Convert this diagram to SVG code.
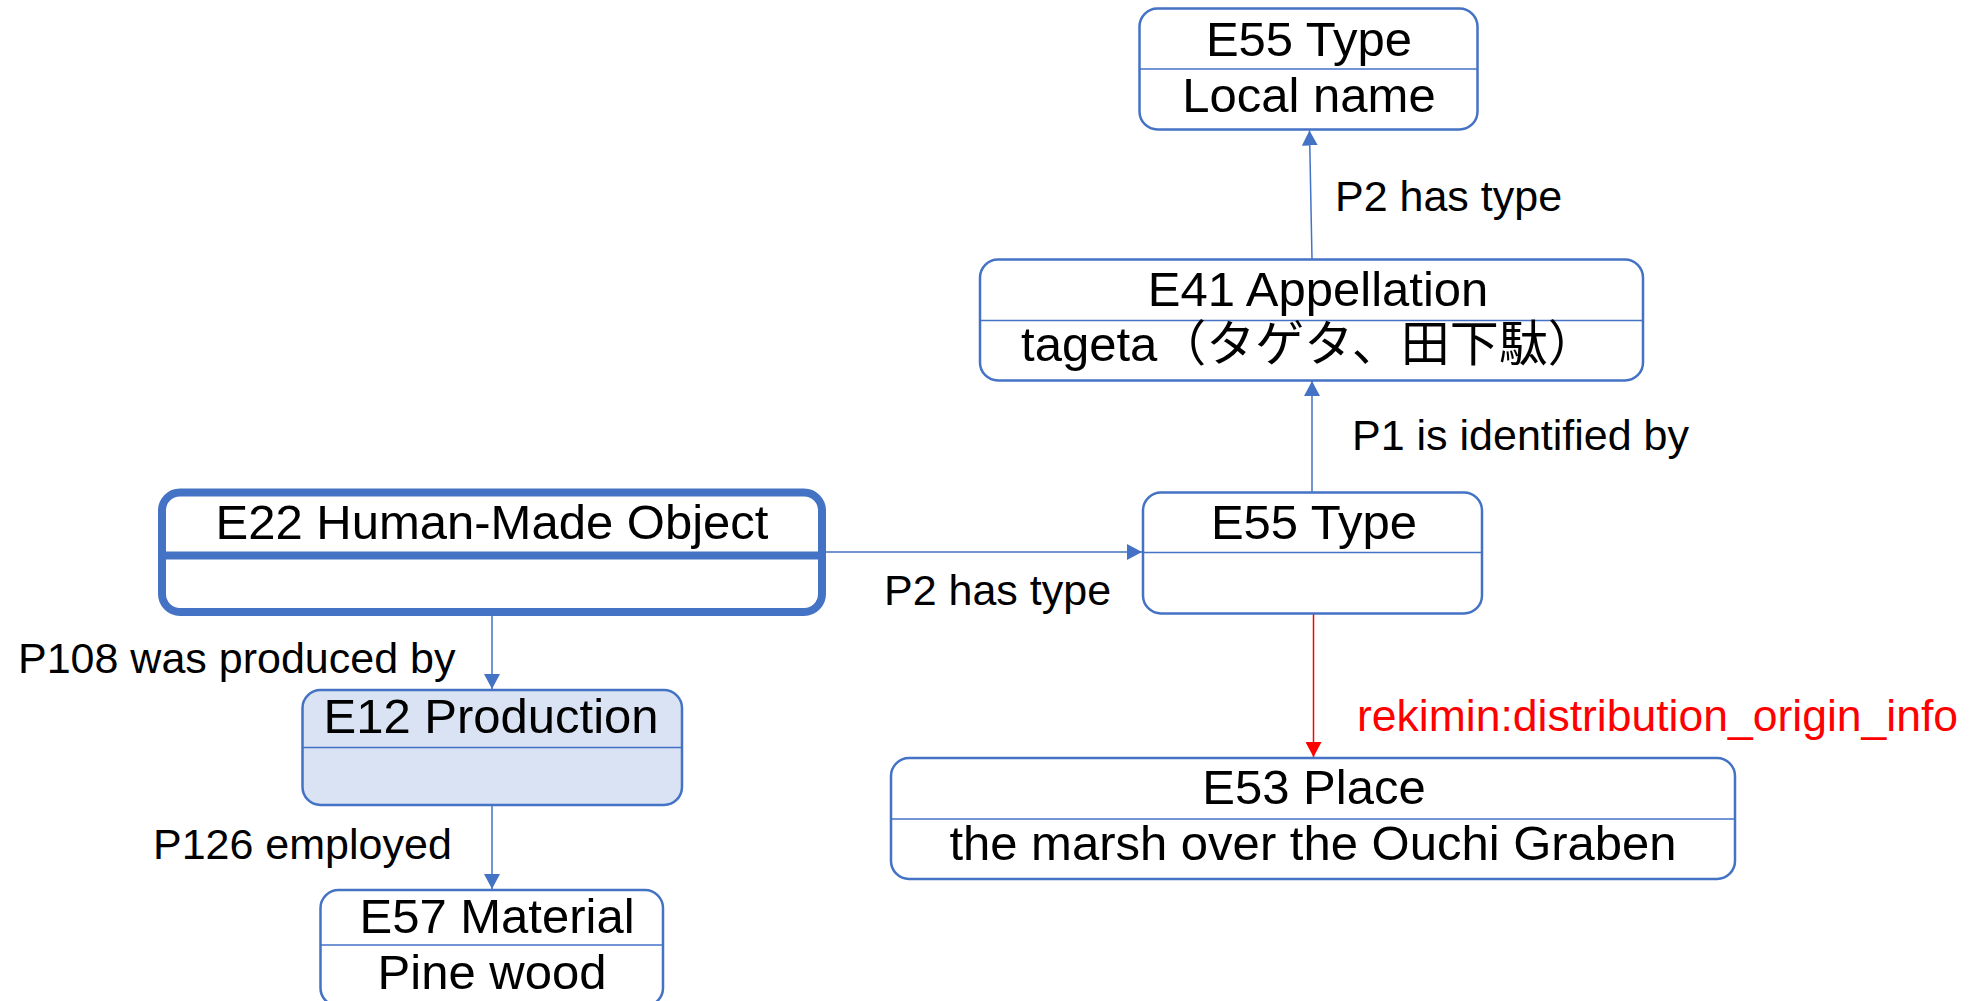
<svg xmlns="http://www.w3.org/2000/svg" width="1972" height="1001" viewBox="0 0 1972 1001">
<style>
.box{fill:#ffffff;stroke:#4472C4;stroke-width:2.5}
.fillbox{fill:#DAE3F3;stroke:#4472C4;stroke-width:2.5}
.thick{fill:#ffffff;stroke:#4472C4;stroke-width:8}
.div{stroke:#4472C4;stroke-width:1.5}
.t{font-family:'Liberation Sans','Noto Sans CJK JP',sans-serif;font-size:49px;fill:#000000;text-anchor:middle}
.lbl{font-family:'Liberation Sans','Noto Sans CJK JP',sans-serif;font-size:43px;fill:#000000}
.red{font-family:'Liberation Sans','Noto Sans CJK JP',sans-serif;font-size:44.5px;fill:#FF0000}
.edge{stroke:#4472C4;stroke-width:1.5;fill:none}
.edgeRed{stroke:#FF0000;stroke-width:1.5;fill:none}
</style>
<defs>
<marker id="arrB" markerUnits="userSpaceOnUse" markerWidth="16" markerHeight="16" refX="15" refY="8" orient="auto">
<path d="M0,0 L15,8 L0,16 Z" fill="#4472C4"/>
</marker>
<marker id="arrR" markerUnits="userSpaceOnUse" markerWidth="16" markerHeight="16" refX="15" refY="8" orient="auto">
<path d="M0,0 L15,8 L0,16 Z" fill="#FF0000"/>
</marker>
</defs>
<rect width="1972" height="1001" fill="#ffffff"/>

<g id="connectors">
<line class="edge" x1="1312" y1="259" x2="1309.5" y2="130.5" marker-end="url(#arrB)"/>
<line class="edge" x1="1312" y1="492" x2="1312" y2="381" marker-end="url(#arrB)"/>
<line class="edge" x1="826" y1="552" x2="1142" y2="552" marker-end="url(#arrB)"/>
<line class="edgeRed" x1="1313.5" y1="613" x2="1313.5" y2="757" marker-end="url(#arrR)"/>
<line class="edge" x1="492" y1="616" x2="492" y2="689" marker-end="url(#arrB)"/>
<line class="edge" x1="492" y1="805" x2="492" y2="889" marker-end="url(#arrB)"/>
<text class="lbl" x="1335" y="211">P2 has type</text>
<text class="lbl" x="1352" y="450" font-size="44.5">P1 is identified by</text>
<text class="lbl" x="884" y="605">P2 has type</text>
<text class="lbl" x="18" y="673">P108 was produced by</text>
<text class="lbl" x="153" y="859">P126 employed</text>
<text class="red" x="1357" y="731">rekimin:distribution_origin_info</text>
</g>

<g id="e55-local-name">
<rect class="box" x="1139.5" y="8.5" width="338" height="121" rx="18"/>
<line class="div" x1="1139.5" y1="69" x2="1477.5" y2="69"/>
<text class="t" x="1309" y="56">E55 Type</text>
<text class="t" x="1309" y="112">Local name</text>
</g>

<g id="e41-appellation">
<rect class="box" x="980" y="259.5" width="663" height="121" rx="18"/>
<line class="div" x1="980" y1="320.5" x2="1643" y2="320.5"/>
<text class="t" x="1318" y="306">E41 Appellation</text>
<text class="t" x="1309" y="361">tageta（タゲタ、田下駄）</text>
</g>

<g id="e55-type">
<rect class="box" x="1143" y="492.5" width="339" height="121" rx="18"/>
<line class="div" x1="1143" y1="552.5" x2="1482" y2="552.5"/>
<text class="t" x="1314" y="539">E55 Type</text>
</g>

<g id="e53-place">
<rect class="box" x="891" y="758" width="844" height="121" rx="18"/>
<line class="div" x1="891" y1="819" x2="1735" y2="819"/>
<text class="t" x="1314" y="804">E53 Place</text>
<text class="t" x="1313" y="860">the marsh over the Ouchi Graben</text>
</g>

<g id="e22-object">
<rect class="thick" x="162" y="492.5" width="660" height="119.5" rx="18"/>
<line stroke="#4472C4" stroke-width="8" x1="162" y1="555.5" x2="822" y2="555.5"/>
<text class="t" x="492" y="539">E22 Human-Made Object</text>
</g>

<g id="e12-production">
<rect class="fillbox" x="302.5" y="690" width="379.5" height="115" rx="18"/>
<line class="div" x1="302.5" y1="747.5" x2="682" y2="747.5"/>
<text class="t" x="491" y="733">E12 Production</text>
</g>

<g id="e57-material">
<rect class="box" x="320.5" y="890" width="342.5" height="116" rx="18"/>
<line class="div" x1="320.5" y1="945" x2="663" y2="945"/>
<text class="t" x="497" y="933">E57 Material</text>
<text class="t" x="492" y="989">Pine wood</text>
</g>
</svg>
